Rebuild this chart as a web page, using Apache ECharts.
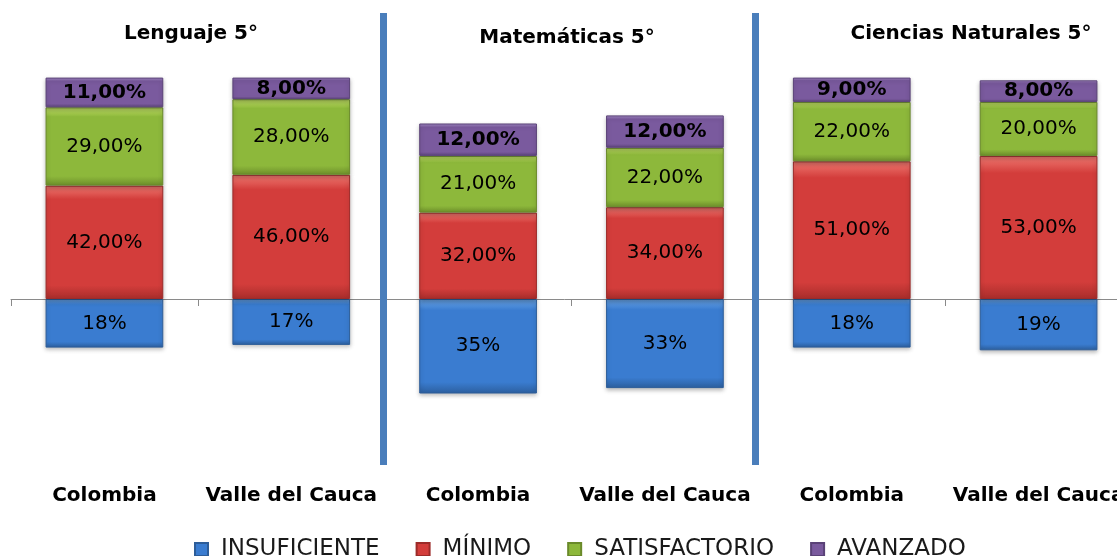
<!DOCTYPE html>
<html>
<head>
<meta charset="utf-8">
<script src="https://cdn.jsdelivr.net/npm/echarts@6/dist/echarts.min.js"></script>
<style>html,body{margin:0;padding:0;background:#fff;}#c{width:1117px;height:556px;}</style>
</head>
<body>
<div id="c"></div>
<script>
const categories = ['Colombia', 'Valle del Cauca', 'Colombia', 'Valle del Cauca', 'Colombia', 'Valle del Cauca'];
const groupTitles = ['Lenguaje 5°', 'Matemáticas 5°', 'Ciencias Naturales 5°'];
const insuficiente = [18, 17, 35, 33, 18, 19];
const minimo = [42, 46, 32, 34, 51, 53];
const satisfactorio = [29, 28, 21, 22, 22, 20];
const avanzado = [11, 8, 12, 12, 9, 8];

const FONT = 'DejaVu Sans';
const chart = echarts.init(document.getElementById('c'), null, {renderer: 'canvas'});

function grad(light, mid, dark) {
  return new echarts.graphic.LinearGradient(0, 0, 0, 1, [
    {offset: 0, color: light},
    {offset: 0.12, color: mid},
    {offset: 0.88, color: mid},
    {offset: 1, color: dark}
  ]);
}
const fmtPos = p => p.value.toFixed(2).replace('.', ',') + '%';
const fmtNeg = p => Math.abs(p.value) + '%';

function mk(name, data, fill, border, fmt, bold) {
  return {
    name: name, type: 'bar', stack: 'total', data: data, barWidth: '63%',
    xAxisIndex: 0,
    itemStyle: {color: fill, borderColor: border, borderWidth: 1,
      shadowBlur: 4, shadowOffsetY: 2, shadowColor: 'rgba(0,0,0,0.25)'},
    label: {show: true, position: 'inside', formatter: fmt, color: '#000',
      fontFamily: FONT, fontSize: 20, fontWeight: bold ? 'bold' : 'normal'}
  };
}

const option = {
  backgroundColor: '#fff',
  animation: false,
  color: ['#3a7cd0', '#d33d3b', '#8db83b', '#7a5a9e'],
  title: [
    {text: groupTitles[0], left: 186, top: 19, textAlign: 'center',
      textStyle: {fontFamily: FONT, fontSize: 20, fontWeight: 'bold', color: '#000'}},
    {text: groupTitles[1], left: 562, top: 23, textAlign: 'center',
      textStyle: {fontFamily: FONT, fontSize: 20, fontWeight: 'bold', color: '#000'}},
    {text: groupTitles[2], left: 966, top: 19, textAlign: 'center',
      textStyle: {fontFamily: FONT, fontSize: 20, fontWeight: 'bold', color: '#000'}}
  ],
  legend: {
    bottom: -10, left: 189, itemWidth: 13, itemHeight: 13, itemGap: 36,
    icon: 'rect',
    textStyle: {fontFamily: FONT, fontSize: 23, color: '#1a1a1a', padding: [0, 0, 0, 8]},
    data: ['INSUFICIENTE', 'MÍNIMO', 'SATISFACTORIO', 'AVANZADO']
  },
  grid: {left: 11, width: 1121, top: 56, bottom: 95, containLabel: false, outerBoundsMode: 'none'},
  xAxis: [
    {type: 'category', data: categories,
      axisLine: {onZero: true, lineStyle: {color: '#8a8a8a', width: 1}},
      axisTick: {show: true, length: 7, lineStyle: {color: '#8a8a8a'}},
      axisLabel: {show: false}},
    {type: 'category', data: categories, position: 'bottom',
      axisLine: {show: false, onZero: false}, axisTick: {show: false},
      axisLabel: {margin: 25, fontFamily: FONT, fontSize: 20, fontWeight: 'bold', color: '#000', interval: 0}}
  ],
  yAxis: {type: 'value', min: -60, max: 90, show: false, splitLine: {show: false}},
  series: [
    mk('INSUFICIENTE', insuficiente.map(v => -v), grad('#6aa6e8', '#3a7cd0', '#2c5f9e'), '#2d5d99', fmtNeg, false),
    mk('MÍNIMO', minimo, grad('#f07a72', '#d33d3b', '#a82d2b'), '#9c2b29', fmtPos, false),
    mk('SATISFACTORIO', satisfactorio, grad('#c7e66a', '#8db83b', '#6d8f2b'), '#6a8a2a', fmtPos, false),
    mk('AVANZADO', avanzado, grad('#a48ac6', '#7a5a9e', '#5c4379'), '#5a4277', fmtPos, true)
  ],
  graphic: [
    {type: 'rect', shape: {x: 380, y: 13, width: 7, height: 452}, style: {fill: '#4a7ebb'}, z: 10},
    {type: 'rect', shape: {x: 752, y: 13, width: 7, height: 452}, style: {fill: '#4a7ebb'}, z: 10}
  ]
};
chart.setOption(option);
</script>
</body>
</html>
